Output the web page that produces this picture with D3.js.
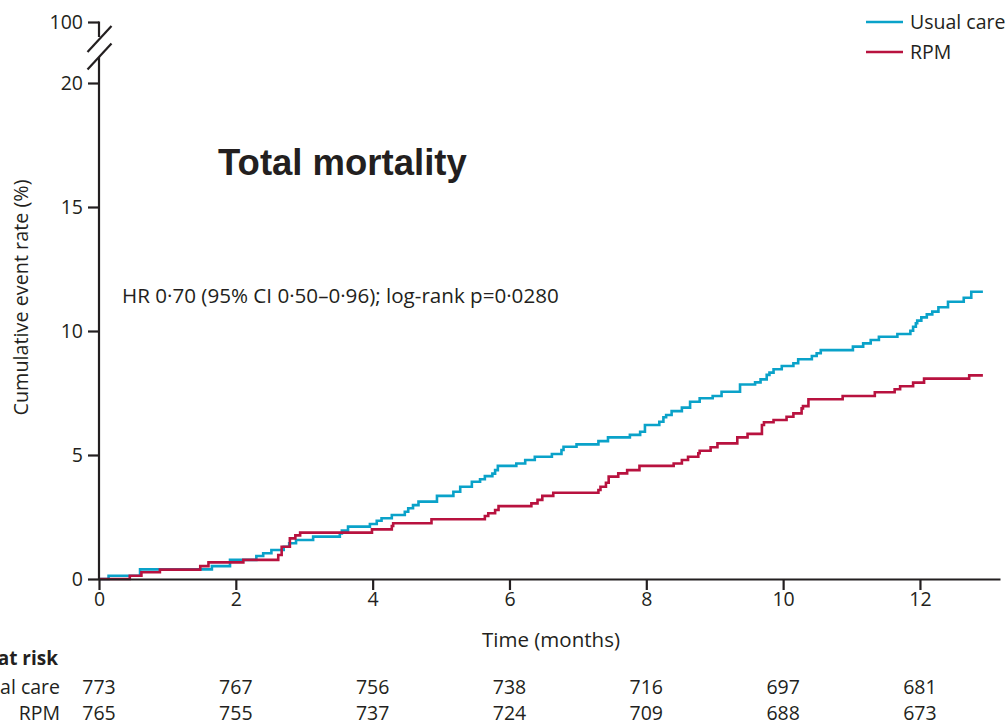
<!DOCTYPE html>
<html>
<head>
<meta charset="utf-8">
<script src="https://cdn.jsdelivr.net/npm/d3@7/dist/d3.min.js"></script>
<style>
  html, body { margin: 0; padding: 0; background: #fff; }
  svg { display: block; }
  text { font-family: "Open Sans", Lato, sans-serif; fill: #231f20; }
</style>
</head>
<body>
<svg id="chart" width="1005" height="724"></svg>
<script>
// Kaplan-Meier cumulative event rate (%), [time in months, rate] at each step
const usualCare = [
  [0, 0], [0.14, 0.13], [0.60, 0.39], [1.65, 0.52], [1.915, 0.77], [2.30, 0.93],
  [2.40, 1.04], [2.52, 1.17], [2.70, 1.30], [2.78, 1.44], [2.88, 1.57], [3.13, 1.71],
  [3.52, 1.84], [3.55, 1.95], [3.64, 2.11], [3.96, 2.22], [4.06, 2.35], [4.13, 2.45],
  [4.28, 2.58], [4.47, 2.71], [4.52, 2.85], [4.59, 2.98], [4.67, 3.12], [4.94, 3.35],
  [5.18, 3.52], [5.28, 3.72], [5.45, 3.92], [5.57, 4.02], [5.64, 4.15], [5.75, 4.25],
  [5.79, 4.39], [5.83, 4.56], [6.10, 4.66], [6.23, 4.80], [6.37, 4.93], [6.62, 5.04],
  [6.76, 5.20], [6.79, 5.33], [6.98, 5.43], [7.30, 5.56], [7.44, 5.71], [7.76, 5.81],
  [7.91, 5.94], [7.98, 6.21], [8.19, 6.34], [8.25, 6.52], [8.29, 6.61], [8.37, 6.77],
  [8.52, 6.91], [8.64, 7.15], [8.78, 7.29], [8.97, 7.38], [9.10, 7.55], [9.37, 7.84],
  [9.59, 7.93], [9.67, 8.05], [9.76, 8.23], [9.80, 8.32], [9.86, 8.46], [9.98, 8.59],
  [10.15, 8.70], [10.22, 8.86], [10.42, 8.99], [10.49, 9.10], [10.55, 9.23], [11.02, 9.37],
  [11.17, 9.50], [11.28, 9.64], [11.40, 9.77], [11.67, 9.88], [11.86, 10.01], [11.90, 10.17],
  [11.94, 10.31], [11.96, 10.42], [12.02, 10.55], [12.10, 10.67], [12.18, 10.78], [12.27, 10.96],
  [12.41, 11.18], [12.64, 11.34], [12.75, 11.58], [12.92, 11.58]
];
const rpm = [
  [0, 0], [0.45, 0.13], [0.62, 0.27], [0.89, 0.38], [1.48, 0.52], [1.60, 0.67],
  [2.11, 0.77], [2.62, 0.97], [2.67, 1.30], [2.79, 1.64], [2.87, 1.76], [2.94, 1.87],
  [3.99, 2.00], [4.28, 2.14], [4.30, 2.25], [4.86, 2.41], [5.64, 2.54], [5.69, 2.65],
  [5.79, 2.78], [5.84, 2.94], [6.32, 3.05], [6.41, 3.19], [6.48, 3.35], [6.64, 3.48],
  [7.30, 3.59], [7.33, 3.72], [7.41, 3.88], [7.45, 4.13], [7.59, 4.26], [7.72, 4.39],
  [7.90, 4.56], [8.40, 4.66], [8.52, 4.80], [8.61, 4.93], [8.76, 5.07], [8.78, 5.17],
  [8.94, 5.31], [9.04, 5.47], [9.33, 5.71], [9.48, 5.85], [9.69, 6.21], [9.72, 6.32],
  [9.86, 6.41], [10.05, 6.54], [10.15, 6.68], [10.27, 6.88], [10.29, 6.97], [10.37, 7.25],
  [10.87, 7.38], [11.34, 7.53], [11.63, 7.65], [11.71, 7.77], [11.90, 7.92], [12.06, 8.08],
  [12.72, 8.21], [12.92, 8.21]
];

const xTicks = [0, 2, 4, 6, 8, 10, 12];
const yTicks = [0, 5, 10, 15, 20];
const yBreakTick = 100;
const riskUsualCare = [773, 767, 756, 738, 716, 697, 681];
const riskRpm = [765, 755, 737, 724, 709, 688, 673];
const seriesNames = ["Usual care", "RPM"];
const seriesColors = ["#0aa2c9", "#b8123f"];

const svg = d3.select("#chart");
const axisColor = "#231f20";
const labelFont = "\"Open Sans\", sans-serif";

const x = d3.scaleLinear().domain([0, 13.17]).range([99, 1000]);
const y = d3.scaleLinear().domain([0, 20]).range([579, 83]);
const yTop = 22.5; // position of the 100 % tick above the axis break

// Curves
const line = d3.line()
  .x(d => x(d[0]))
  .y(d => y(d[1]))
  .curve(d3.curveStepAfter);

[usualCare, rpm].forEach((s, i) => {
  svg.append("path")
    .datum(s)
    .attr("fill", "none")
    .attr("stroke", seriesColors[i])
    .attr("stroke-width", 2.6)
    .attr("d", line);
});

// X axis
const xAxis = svg.append("g")
  .attr("transform", `translate(0,${y(0)})`)
  .call(d3.axisBottom(x).tickValues(xTicks).tickSize(11).tickPadding(2).tickSizeOuter(0));
xAxis.select(".domain").attr("stroke", axisColor).attr("stroke-width", 2.2);
xAxis.selectAll(".tick line").attr("stroke", axisColor).attr("stroke-width", 2.2);
xAxis.selectAll(".tick text")
  .style("font-family", labelFont)
  .style("font-size", "19.5px")
  .attr("fill", axisColor);

// Y axis (0-20 segment)
const yAxis = svg.append("g")
  .attr("transform", `translate(${x(0)},0)`)
  .call(d3.axisLeft(y).tickValues(yTicks).tickSize(11).tickPadding(5).tickSizeOuter(0));
yAxis.select(".domain").remove();
yAxis.selectAll(".tick line").attr("stroke", axisColor).attr("stroke-width", 2.2);
yAxis.selectAll(".tick text")
  .style("font-family", labelFont)
  .style("font-size", "19.5px")
  .attr("fill", axisColor);

const x0 = x(0);
// lower axis segment up to just above 20
svg.append("line")
  .attr("x1", x0).attr("x2", x0)
  .attr("y1", y(0) + 1).attr("y2", 57)
  .attr("stroke", axisColor).attr("stroke-width", 2.2);
// upper axis segment from 100 down to the break
svg.append("line")
  .attr("x1", x0).attr("x2", x0)
  .attr("y1", yTop - 1).attr("y2", 37)
  .attr("stroke", axisColor).attr("stroke-width", 2.2);
// 100 tick
svg.append("line")
  .attr("x1", x0 - 11).attr("x2", x0)
  .attr("y1", yTop).attr("y2", yTop)
  .attr("stroke", axisColor).attr("stroke-width", 2.2);
svg.append("text")
  .attr("x", x0 - 16).attr("y", yTop)
  .attr("dy", "0.35em")
  .attr("text-anchor", "end")
  .style("font-size", "19.5px")
  .text(yBreakTick);
// break marks
[[87.5, 52, 111.5, 26], [87.5, 69.5, 111.5, 43.5]].forEach(b => {
  svg.append("line")
    .attr("x1", b[0]).attr("y1", b[1]).attr("x2", b[2]).attr("y2", b[3])
    .attr("stroke", axisColor).attr("stroke-width", 2.2);
});

// Axis titles
svg.append("text")
  .attr("transform", `translate(21,${(180 + 415) / 2}) rotate(-90)`)
  .attr("text-anchor", "middle")
  .attr("dy", "0.35em")
  .style("font-size", "19.8px")
  .text("Cumulative event rate (%)");

svg.append("text")
  .attr("x", 551).attr("y", 640)
  .attr("text-anchor", "middle")
  .attr("dy", "0.35em")
  .style("font-size", "20.5px")
  .text("Time (months)");

// Panel title
svg.append("text")
  .attr("x", 218).attr("y", 175)
  .style("font-family", "'Liberation Sans', Arial, sans-serif")
  .style("font-weight", "bold")
  .style("font-size", "36.5px")
  .attr("fill", "#111")
  .text("Total mortality");

// Hazard ratio annotation
svg.append("text")
  .attr("x", 122).attr("y", 296)
  .attr("dy", "0.35em")
  .style("font-size", "20.6px")
  .text("HR 0·70 (95% CI 0·50–0·96); log-rank p=0·0280");

// Legend
const legend = svg.append("g");
seriesNames.forEach((name, i) => {
  const ly = 22 + i * 30;
  legend.append("line")
    .attr("x1", 866).attr("x2", 903)
    .attr("y1", ly).attr("y2", ly)
    .attr("stroke", seriesColors[i]).attr("stroke-width", 2.6);
  legend.append("text")
    .attr("x", 910).attr("y", ly)
    .attr("dy", "0.35em")
    .style("font-size", "19.5px")
    .text(name);
});

// Number at risk table
svg.append("text")
  .attr("x", 58).attr("y", 658)
  .attr("dy", "0.35em")
  .attr("text-anchor", "end")
  .style("font-weight", "bold")
  .style("font-size", "19px")
  .text("Number at risk");

[[seriesNames[0], riskUsualCare, 687], [seriesNames[1], riskRpm, 713]].forEach(row => {
  svg.append("text")
    .attr("x", 60).attr("y", row[2])
    .attr("dy", "0.35em")
    .attr("text-anchor", "end")
    .style("font-size", "19.5px")
    .text(row[0]);
  svg.selectAll(null)
    .data(row[1])
    .enter()
    .append("text")
    .attr("x", (d, i) => x(xTicks[i]))
    .attr("y", row[2])
    .attr("dy", "0.35em")
    .attr("text-anchor", "middle")
    .style("font-size", "19.5px")
    .text(d => d);
});
</script>
</body>
</html>
